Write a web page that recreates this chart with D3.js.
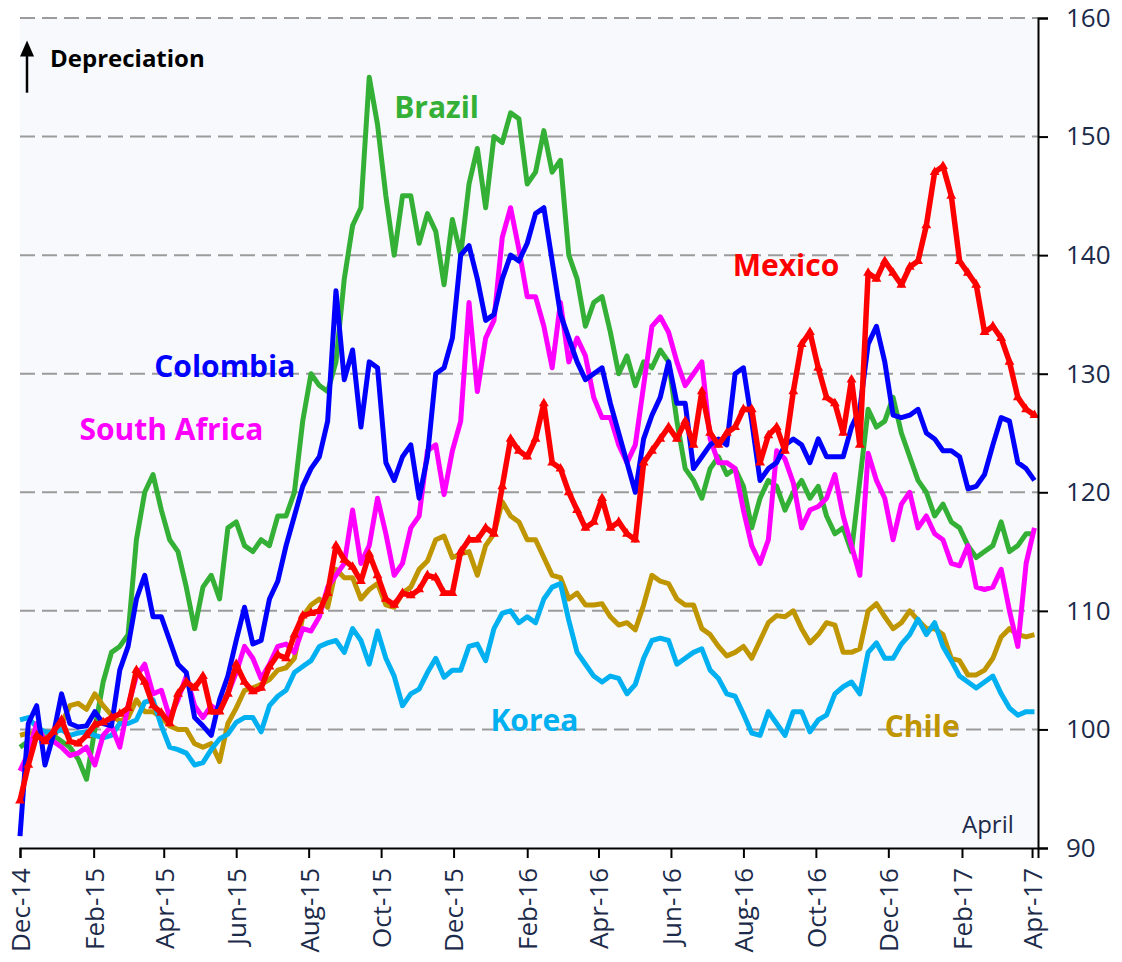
<!DOCTYPE html>
<html>
<head>
<meta charset="utf-8">
<script src="https://cdn.jsdelivr.net/npm/d3@7"></script>
<style>
  html, body { margin: 0; padding: 0; background: #fff; }
  svg { display: block; font-family: "Open Sans", "DejaVu Sans", sans-serif; }
</style>
</head>
<body>
<svg id="chart"></svg>
<script>
// weekly readings, index 100 = start, first week starts 1 Dec 2014
const firstWeek = "2014-12-01";

const brazil = [98.5, 99, 99.5, 99.8, 99.5, 99, 98.5, 97.5, 95.8, 100, 104, 106.5, 107, 108, 116, 120, 121.5, 118.5, 116, 115,
  112, 108.5, 112, 113, 111, 117, 117.5, 115.5, 115, 116, 115.5, 118, 118, 120, 126, 130, 129, 128.5, 131, 138,
  142.5, 144, 155, 151, 145, 140, 145, 145, 141, 143.5, 142, 137.5, 143, 140, 146, 149, 144, 150, 149.5, 152,
  151.5, 146, 147, 150.5, 147, 148, 140, 138, 134, 136, 136.5, 133.5, 130, 131.5, 129, 131, 130.5, 132, 131, 126,
  122, 121, 119.5, 122, 123, 121.5, 122, 120.5, 117, 119.5, 121, 120.5, 118.5, 120, 121, 119.5, 120.5, 118, 116.5, 117,
  115, 121, 127, 125.5, 126, 128, 125, 123, 121, 120, 118, 119, 117.5, 117, 115.5, 114.5, 115, 115.5, 117.5, 115,
  115.5, 116.5, 116.5];

const colombia = [91, 100.5, 102, 97, 99.5, 103, 100.5, 100.2, 100.3, 101.5, 100.5, 100.3, 105, 107, 111, 113, 109.5, 109.5, 107.5, 105.5,
  104.8, 101, 100.3, 99.5, 102.5, 104.5, 107.5, 110.3, 107.2, 107.5, 111, 112.5, 115.5, 118, 120.5, 122, 123, 126, 137, 129.5,
  132, 125.5, 131, 130.5, 122.5, 121, 123, 124, 119.5, 123, 130, 130.5, 133, 140, 140.8, 138, 134.5, 135, 138, 140,
  139.5, 141, 143.5, 144, 139.5, 135, 133, 131, 129.5, 130, 130.5, 127.5, 125, 122.5, 120, 124.5, 126.5, 128, 131, 127.5,
  127.5, 122, 123, 124, 124.5, 124, 130, 130.5, 126, 121, 122, 122.5, 124, 124.5, 124, 122.5, 124.5, 123, 123, 123,
  125.5, 127, 132.5, 134, 131, 126.5, 126.3, 126.5, 127, 125, 124.5, 123.5, 123.5, 123, 120.3, 120.5, 121.5, 124, 126.3, 126,
  122.5, 122, 121];

const southAfrica = [96.5, 98, 100.5, 99, 99, 98.5, 97.8, 98, 98.5, 97, 99.5, 100.3, 98.5, 102, 104.5, 105.5, 103, 103.3, 101, 102.5,
  104.5, 102, 101, 102, 101.5, 103, 104.8, 107, 106, 104.3, 105.5, 107, 107.2, 106.5, 108.5, 108.3, 109.5, 112, 113, 114,
  118.5, 114, 115.5, 119.5, 116.5, 113, 114, 117, 118, 123.5, 124, 119.8, 123.5, 126, 136, 128.5, 133, 134.5, 141.5, 144,
  140.5, 136.5, 136.5, 134, 130.5, 136, 131, 133, 131.5, 128, 126.3, 126.3, 124, 122.5, 124, 129, 134, 134.8, 133.5, 131,
  129, 130, 131, 124.5, 122.5, 122.5, 122, 118.5, 115.5, 114, 116, 123.5, 122.8, 120.8, 117, 118.5, 118.8, 119.5, 121.5, 118,
  115.5, 113, 123.3, 121, 119.5, 116, 119, 120, 117, 118, 116.5, 116, 114, 113.8, 115.5, 112, 111.8, 112, 113.5, 110,
  107, 114, 117];

const mexico = [94, 97, 99.5, 99, 99.8, 100.8, 99, 98.8, 99.5, 100.4, 100.6, 101, 101.3, 101.8, 105, 104, 102, 101.4, 100.5, 103,
  104, 103.5, 104.5, 101.5, 101.5, 103, 105.5, 104, 103.2, 103.5, 105.3, 106.3, 106, 108, 109.6, 109.8, 110, 111.5, 115.5, 114.3,
  113.7, 112.5, 114.8, 113, 111, 110.5, 111.5, 111.3, 111.8, 113, 112.8, 111.5, 111.5, 115, 116, 116, 117, 116.5, 120.5, 124.5,
  123.5, 123, 124.5, 127.5, 122.5, 122, 120, 118.5, 117, 117.5, 119.5, 117, 117.5, 116.5, 116, 122.5, 123.5, 124.5, 125.5, 124.5,
  126, 124, 128.5, 125, 124, 125, 125.5, 127, 127, 122.5, 124.8, 125.5, 123.5, 128.5, 132.5, 133.5, 130.5, 128, 127.5, 125,
  129.5, 124, 138.5, 138, 139.5, 138.5, 137.5, 139, 139.5, 142.5, 147, 147.5, 145, 139.5, 138.5, 137.5, 133.5, 134, 133, 131,
  128, 127, 126.5];

const chile = [99.5, 99.7, 99.7, 99.3, 99.5, 100.5, 102, 102.2, 101.7, 103, 102, 101.2, 100.7, 101, 102.5, 101.5, 101.5, 101, 100.3, 100,
  100, 98.8, 98.5, 98.8, 97.3, 100.5, 101.8, 103.3, 103.5, 103.8, 104.2, 105, 105.2, 106, 109.5, 110.5, 111, 110.3, 113.5, 112.8,
  112.8, 111, 111.8, 112.3, 110.5, 110.3, 111.5, 112, 113.5, 114.2, 116, 116.3, 114.5, 114.8, 115, 113, 115.5, 116.5, 119.2, 118,
  117.5, 116, 116, 114.5, 113, 112.8, 111, 111.5, 110.5, 110.5, 110.6, 109.5, 108.8, 109, 108.4, 110.5, 113, 112.5, 112.3, 111,
  110.5, 110.5, 108.5, 108, 107, 106.2, 106.5, 107, 106, 107.5, 109, 109.6, 109.5, 110, 108.5, 107.3, 108, 109, 108.8, 106.5,
  106.5, 106.8, 110, 110.6, 109.5, 108.5, 109, 110, 109.2, 108.5, 108.5, 108, 106, 105.8, 104.6, 104.6, 105, 106, 107.8, 108.5,
  108, 107.8, 108];

const korea = [100.8, 101, 100.2, 99.8, 99.7, 100, 99.5, 99.7, 99.8, 99.5, 99.3, 99.5, 100.5, 100.5, 100.8, 102.3, 102.5, 100.3, 98.5, 98.3,
  98, 97, 97.2, 98.3, 99.2, 99.6, 100.6, 101, 101, 99.8, 102, 102.8, 103.3, 104.8, 105.3, 105.8, 107, 107.3, 107.5, 106.5,
  108.5, 107.5, 105.5, 108.3, 106, 104.5, 102, 103, 103.4, 104.8, 106, 104.4, 105, 105, 107, 107.2, 105.8, 108.5, 109.8, 110,
  109, 109.5, 109, 111, 112, 112.3, 109.2, 106.5, 105.5, 104.5, 104, 104.5, 104.3, 103, 103.8, 106, 107.5, 107.7, 107.5, 105.5,
  106, 106.5, 106.8, 105, 104.3, 103, 102.8, 101.3, 99.7, 99.5, 101.5, 100.5, 99.5, 101.5, 101.5, 99.8, 100.8, 101.2, 103, 103.6,
  104, 103, 106.5, 107.3, 106, 106, 107.2, 108, 109.3, 108, 109, 107, 105.8, 104.5, 104, 103.5, 104, 104.5, 103, 101.8,
  101.2, 101.5, 101.5];

const yTicks = [90, 100, 110, 120, 130, 140, 150, 160];
const xTickLabels = ["Dec-14", "Feb-15", "Apr-15", "Jun-15", "Aug-15", "Oct-15", "Dec-15", "Feb-16",
  "Apr-16", "Jun-16", "Aug-16", "Oct-16", "Dec-16", "Feb-17", "Apr-17"];

// drawing order: first is at the bottom
const series = [
  { name: "Brazil", values: brazil, color: "#33b035", label: ["2015-10-12", 151.6] },
  { name: "Chile", values: chile, color: "#bf9500", label: ["2016-11-28", 99.4] },
  { name: "Korea", values: korea, color: "#00b0f0", label: ["2016-01-01", 99.9] },
  { name: "South Africa", values: southAfrica, color: "#ff00ff", label: ["2015-01-20", 124.4] },
  { name: "Colombia", values: colombia, color: "#0000ff", label: ["2015-03-24", 129.7] },
  { name: "Mexico", values: mexico, color: "#ff0000", label: ["2016-07-23", 138.2], markers: true }
];

const width = 1122;
const height = 962;
const margin = { top: 18, right: 84, bottom: 114, left: 20 };

const parseDay = d3.timeParse("%Y-%m-%d");
const parseMonth = d3.timeParse("%b-%y");
const start = parseDay(firstWeek);
const dates = brazil.map((_, i) => d3.timeDay.offset(start, i * 7));

const x = d3.scaleTime()
    .domain([start, parseDay("2017-04-06")])
    .range([margin.left, width - margin.right]);

const y = d3.scaleLinear()
    .domain([90, 160])
    .range([height - margin.bottom, margin.top]);

const svg = d3.select("#chart")
    .attr("width", width)
    .attr("height", height);

// plot background
svg.append("rect")
    .attr("x", margin.left)
    .attr("y", margin.top)
    .attr("width", width - margin.right - margin.left)
    .attr("height", height - margin.bottom - margin.top)
    .attr("fill", "#f8f9fc");

// dashed gridlines
svg.append("g")
    .selectAll("line")
    .data(yTicks.filter(d => d > 90))
    .join("line")
    .attr("x1", margin.left)
    .attr("x2", width - margin.right)
    .attr("y1", d => y(d))
    .attr("y2", d => y(d))
    .attr("stroke", "#9b9b9b")
    .attr("stroke-width", 2)
    .attr("stroke-dasharray", "15,7");

// lines
const line = d3.line()
    .x((d, i) => x(dates[i]))
    .y(d => y(d));

series.forEach(s => {
    svg.append("path")
        .datum(s.values)
        .attr("fill", "none")
        .attr("stroke", s.color)
        .attr("stroke-width", s.markers ? 5.5 : 5)
        .attr("stroke-linejoin", "round")
        .attr("d", line);

    if (s.markers) {
        svg.append("g")
            .selectAll("path")
            .data(s.values)
            .join("path")
            .attr("transform", (d, i) => `translate(${x(dates[i])},${y(d)})`)
            .attr("d", d3.symbol(d3.symbolTriangle, 42))
            .attr("fill", s.color);
    }
});

// series labels
svg.append("g")
    .selectAll("text")
    .data(series)
    .join("text")
    .attr("x", d => x(parseDay(d.label[0])))
    .attr("y", d => y(d.label[1]))
    .attr("fill", d => d.color)
    .attr("font-size", 30)
    .attr("font-weight", 700)
    .text(d => d.name);

// right axis
const yAxis = svg.append("g")
    .attr("transform", `translate(${width - margin.right},0)`)
    .call(d3.axisRight(y).tickValues(yTicks).tickSize(10).tickPadding(18));
yAxis.select(".domain").attr("stroke", "#000").attr("stroke-width", 2);
yAxis.selectAll(".tick line").attr("stroke", "#000").attr("stroke-width", 2);
yAxis.selectAll(".tick text")
    .attr("fill", "#1c2b4a")
    .attr("font-size", 26)
    .attr("font-family", "Open Sans, sans-serif");

// bottom axis
const xAxis = svg.append("g")
    .attr("transform", `translate(0,${height - margin.bottom})`)
    .call(d3.axisBottom(x)
        .tickValues(xTickLabels.map(parseMonth))
        .tickFormat(d3.timeFormat("%b-%y"))
        .tickSize(10));
xAxis.select(".domain").attr("stroke", "#000").attr("stroke-width", 2);
xAxis.selectAll(".tick line").attr("stroke", "#000").attr("stroke-width", 2);
xAxis.selectAll(".tick text")
    .attr("fill", "#1c2b4a")
    .attr("font-size", 26)
    .attr("font-family", "Open Sans, sans-serif")
    .attr("text-anchor", "end")
    .attr("transform", "rotate(-90)")
    .attr("x", -20)
    .attr("y", 0)
    .attr("dy", "0.36em");

// depreciation note with arrow
svg.append("line")
    .attr("x1", 27).attr("x2", 27)
    .attr("y1", y(153.7)).attr("y2", y(157.6))
    .attr("stroke", "#000")
    .attr("stroke-width", 2.5);
svg.append("path")
    .attr("transform", `translate(27,${y(157.6)})`)
    .attr("d", "M0,-6 L-7,10 L7,10 Z")
    .attr("fill", "#000");
svg.append("text")
    .attr("x", 50)
    .attr("y", y(155.9))
    .attr("font-size", 24)
    .attr("font-weight", 700)
    .attr("fill", "#000")
    .text("Depreciation");

svg.append("text")
    .attr("x", x(parseDay("2017-02-01")))
    .attr("y", y(91.3))
    .attr("font-size", 24)
    .attr("fill", "#1c2b4a")
    .text("April");
</script>
</body>
</html>
